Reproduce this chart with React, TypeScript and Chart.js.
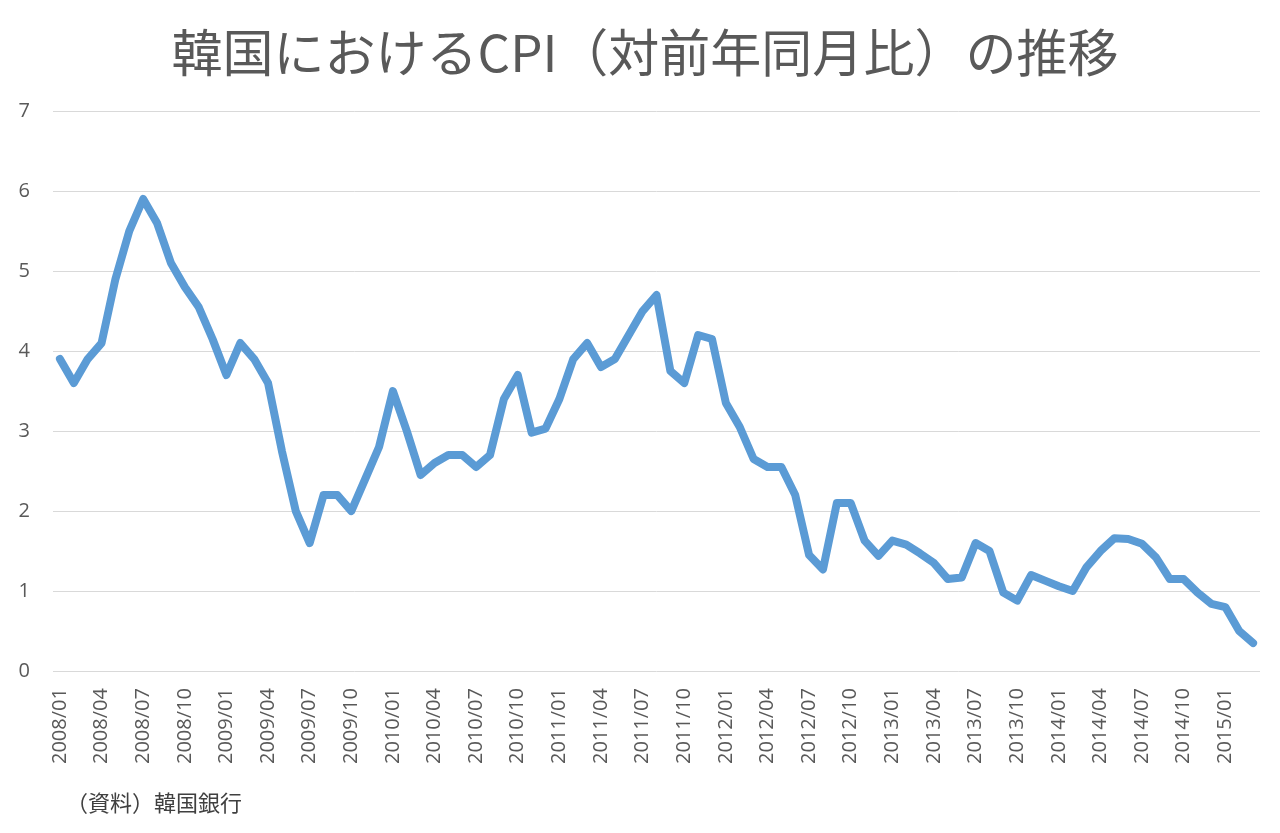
import React, { useEffect, useRef } from "react";
import Chart from "chart.js/auto";

const title = "韓国におけるCPI（対前年同月比）の推移";
const source = "（資料）韓国銀行";

const years = ["2008", "2009", "2010", "2011", "2012", "2013", "2014", "2015"];
const months = ["01", "02", "03", "04", "05", "06", "07", "08", "09", "10", "11", "12"];
// data runs 2008/01 .. 2015/03
const categories = years.flatMap((y) => months.map((m) => `${y}/${m}`)).slice(0, 87);

const cpi2008 = [3.9, 3.6, 3.9, 4.1, 4.9, 5.5, 5.9, 5.6, 5.1, 4.8, 4.55, 4.15];
const cpi2009 = [3.7, 4.1, 3.9, 3.6, 2.75, 2.0, 1.6, 2.2, 2.2, 2.0, 2.4, 2.8];
const cpi2010 = [3.5, 3.0, 2.45, 2.6, 2.7, 2.7, 2.55, 2.7, 3.4, 3.7, 2.98, 3.03];
const cpi2011 = [3.4, 3.9, 4.1, 3.8, 3.9, 4.2, 4.5, 4.7, 3.75, 3.6, 4.2, 4.15];
const cpi2012 = [3.35, 3.05, 2.65, 2.55, 2.55, 2.2, 1.45, 1.27, 2.1, 2.1, 1.63, 1.44];
const cpi2013 = [1.63, 1.58, 1.47, 1.35, 1.15, 1.17, 1.6, 1.5, 0.98, 0.88, 1.2, 1.13];
const cpi2014 = [1.06, 1.0, 1.3, 1.5, 1.66, 1.65, 1.59, 1.42, 1.15, 1.15, 0.98, 0.84];
const cpi2015 = [0.8, 0.5, 0.35];

const cpi = [...cpi2008, ...cpi2009, ...cpi2010, ...cpi2011, ...cpi2012, ...cpi2013, ...cpi2014, ...cpi2015];

const yTicks = [0, 1, 2, 3, 4, 5, 6, 7];

const textColor = "#595959";
const font = "'Open Sans', 'Noto Sans CJK JP', sans-serif";

const CpiChart = () => {
  const canvasRef = useRef<HTMLCanvasElement | null>(null);

  useEffect(() => {
    if (!canvasRef.current) return;
    const ctx = canvasRef.current.getContext("2d");
    if (!ctx) return;

    const chart = new Chart(ctx, {
      type: "line",
      data: {
        labels: categories,
        datasets: [
          {
            label: "CPI",
            data: cpi,
            borderColor: "#5b9bd5",
            borderWidth: 8,
            pointRadius: 0,
            tension: 0,
            borderJoinStyle: "round",
            borderCapStyle: "round",
            fill: false,
          },
        ],
      },
      options: {
        responsive: false,
        animation: false,
        layout: { padding: { left: 18, right: 20, top: 111, bottom: 60 } },
        plugins: {
          legend: { display: false },
          tooltip: { enabled: false },
          title: { display: false },
        },
        scales: {
          x: {
            offset: true,
            grid: { display: false },
            border: { display: false },
            // the rotated first label otherwise pushes the plot to the right
            afterFit: (axis) => {
              axis.paddingLeft = 0;
              axis.paddingRight = 0;
            },
            ticks: {
              autoSkip: false,
              maxRotation: 90,
              minRotation: 90,
              padding: 9,
              color: textColor,
              font: { family: font, size: 20 },
              callback: (_v, i) => (i % 3 === 0 ? categories[i] : ""),
            },
          },
          y: {
            min: 0,
            max: 7,
            afterBuildTicks: (axis) => {
              axis.ticks = yTicks.map((v) => ({ value: v }));
            },
            afterFit: (axis) => {
              axis.width = 35;
            },
            grid: { color: "#d9d9d9", lineWidth: 1, drawTicks: false },
            border: { display: false },
            ticks: {
              padding: 23,
              color: textColor,
              font: { family: font, size: 20 },
            },
          },
        },
      },
    });

    return () => {
      chart.destroy();
    };
  }, []);

  return <canvas ref={canvasRef} width={1280} height={833} />;
};

export default function App() {
  return (
    <div style={{ position: "absolute", left: 0, top: 0, width: 1280, height: 833, background: "#fff" }}>
      <CpiChart />
      <div
        style={{
          position: "absolute",
          left: 0,
          top: 20,
          width: 1290,
          textAlign: "center",
          fontFamily: "'Noto Sans CJK JP', sans-serif",
          fontSize: 51,
          lineHeight: "60px",
          color: textColor,
          whiteSpace: "nowrap",
        }}
      >
        {title}
      </div>
      <div
        style={{
          position: "absolute",
          left: 66,
          top: 786,
          fontFamily: "'Noto Sans CJK JP', sans-serif",
          fontSize: 22,
          color: "#404040",
          lineHeight: "30px",
        }}
      >
        {source}
      </div>
    </div>
  );
}
